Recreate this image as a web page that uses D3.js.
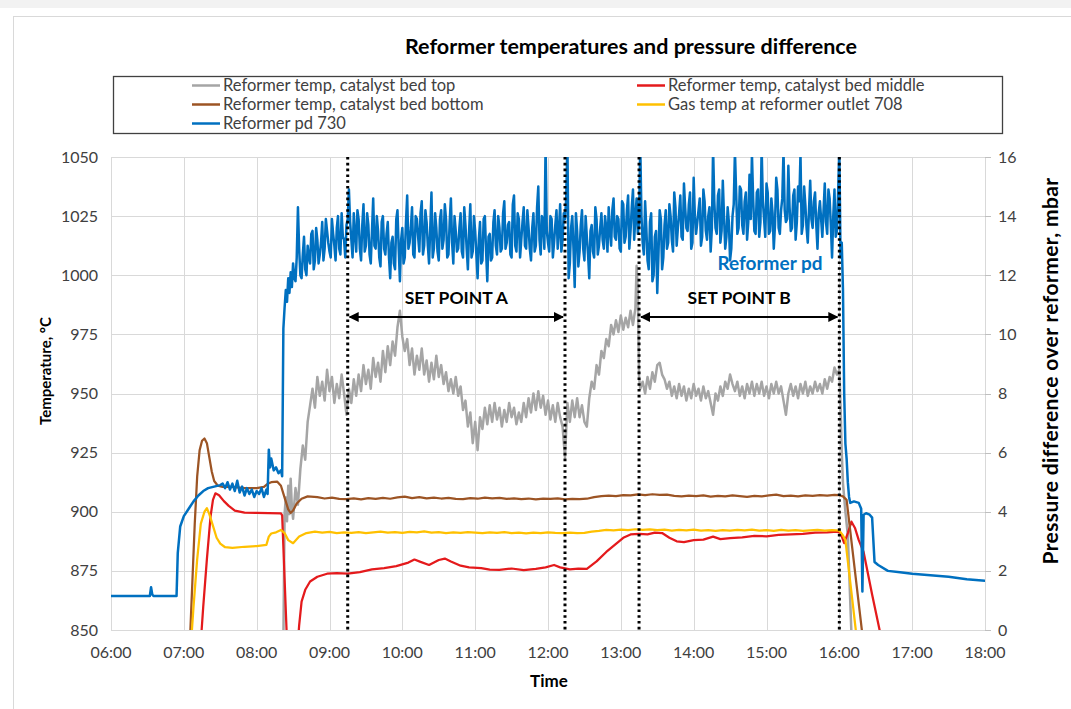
<!DOCTYPE html>
<html lang="en">
<head>
<meta charset="UTF-8">
<title>Reformer temperatures and pressure difference</title>
<script src="https://d3js.org/d3.v7.min.js"></script>
<style>
  html, body { margin: 0; padding: 0; background: #fff; overflow: hidden; }
  svg { display: block; font-family: Lato, "Open Sans", sans-serif; }
  .grid line { stroke: #d9d9d9; stroke-width: 1; }
  .tick-label { font-size: 16px; fill: #404040; }
  .axis-title { font-weight: bold; fill: #000; }
  .series { fill: none; stroke-linejoin: round; stroke-linecap: round; }
</style>
</head>
<body>
<svg width="1071" height="709"></svg>
<script>
const chartTitle = "Reformer temperatures and pressure difference";
const timeTicks = ["06:00","07:00","08:00","09:00","10:00","11:00","12:00","13:00","14:00","15:00","16:00","17:00","18:00"];
const tempTicks = [850, 875, 900, 925, 950, 975, 1000, 1025, 1050];
const pdTicks = [0, 2, 4, 6, 8, 10, 12, 14, 16];

// vertical markers and set point spans
const markerTimes = ["09:15", "12:14", "13:15", "16:00"];
const setPoints = [
  { label: "SET POINT A", from: "09:15", to: "12:14" },
  { label: "SET POINT B", from: "13:15", to: "16:00" }
];

// Reformer temp, catalyst bed top (deg C)
const bedTop = [
  ["08:22",845],["08:23",899],["08:24",906],["08:25",896],["08:26",911],["08:27",899],["08:28",914],["08:29",902],
  ["08:30",897],["08:32",910],["08:34",903],["08:36",918],["08:38",928],["08:40",922],["08:42",938],["08:44",945],
  ["08:46",952],["08:48",944],["08:50",957],["08:52",949],["08:54",955],["08:56",947],["08:58",960],["09:00",951],
  ["09:02",957],["09:04",946],["09:06",954],["09:08",948],["09:10",958],["09:12",950],["09:14",941],
  ["09:16",952],["09:18",946],["09:20",956],["09:22",949],["09:24",958],["09:26",951],["09:28",962],["09:30",954],
  ["09:32",960],["09:34",952],["09:36",965],["09:38",957],["09:40",963],["09:42",955],["09:44",968],["09:46",959],
  ["09:48",970],["09:50",962],["09:52",972],["09:54",966],["09:56",978],["09:58",985],["10:00",974],["10:02",968],
  ["10:04",973],["10:06",962],["10:08",969],["10:10",958],["10:12",966],["10:14",960],["10:16",969],["10:18",958],
  ["10:20",964],["10:22",955],["10:24",963],["10:26",956],["10:28",966],["10:30",957],["10:32",962],["10:34",954],
  ["10:36",959],["10:38",951],["10:40",956],["10:42",950],["10:44",957],["10:46",949],["10:48",953],["10:50",943],
  ["10:52",947],["10:54",936],["10:56",942],["10:58",929],["11:00",938],["11:02",926],["11:04",940],["11:06",935],
  ["11:08",944],["11:10",937],["11:12",945],["11:14",938],["11:16",946],["11:18",939],["11:20",944],["11:22",936],
  ["11:24",943],["11:26",938],["11:28",946],["11:30",940],["11:32",944],["11:34",937],["11:36",942],["11:38",938],
  ["11:40",946],["11:42",940],["11:44",948],["11:46",942],["11:48",950],["11:50",943],["11:52",951],["11:54",944],
  ["11:56",949],["11:58",941],["12:00",947],["12:02",939],["12:04",945],["12:06",938],["12:08",946],["12:10",940],
  ["12:12",936],["12:14",923],["12:16",946],["12:18",938],["12:20",947],["12:22",940],["12:24",948],["12:26",940],
  ["12:28",945],["12:30",938],["12:32",936],["12:34",948],["12:36",955],["12:38",952],["12:40",962],["12:42",958],
  ["12:44",968],["12:46",965],["12:48",973],["12:50",970],["12:52",979],["12:54",975],["12:56",981],["12:58",976],
  ["13:00",983],["13:02",977],["13:04",982],["13:06",978],["13:08",985],["13:10",979],["13:12",986],["13:13",1004],
  ["13:14",992],["13:15",957],["13:16",952],["13:18",955],["13:20",950],["13:22",957],["13:24",952],["13:26",959],
  ["13:28",955],["13:30",962],["13:32",963],["13:34",958],["13:36",956],["13:38",952],["13:40",955],["13:42",949],
  ["13:44",953],["13:46",948],["13:48",954],["13:50",949],["13:52",953],["13:54",947],["13:56",952],["13:58",948],
  ["14:00",954],["14:02",949],["14:04",952],["14:06",947],["14:08",953],["14:10",948],["14:12",951],["14:14",946],
  ["14:16",941],["14:18",950],["14:20",947],["14:22",953],["14:24",949],["14:26",955],["14:28",952],["14:30",958],
  ["14:32",954],["14:34",951],["14:36",955],["14:38",949],["14:40",953],["14:42",948],["14:44",954],["14:46",950],
  ["14:48",955],["14:50",949],["14:52",954],["14:54",950],["14:56",955],["14:58",949],["15:00",953],["15:02",948],
  ["15:04",954],["15:06",950],["15:08",955],["15:10",950],["15:12",953],["15:14",947],["15:16",941],["15:18",950],
  ["15:20",954],["15:22",949],["15:24",953],["15:26",948],["15:28",954],["15:30",950],["15:32",955],["15:34",949],
  ["15:36",953],["15:38",950],["15:40",955],["15:42",951],["15:44",954],["15:46",950],["15:48",956],["15:50",952],
  ["15:52",957],["15:54",955],["15:56",961],["15:58",958],["16:00",960],["16:01",945],["16:02",925],["16:03",912],
  ["16:05",900],["16:07",890],["16:10",848]
];

// Reformer temp, catalyst bed middle (deg C)
const bedMiddle = [
  ["07:14",845],["07:16",860],["07:19",880],["07:22",898],["07:24",905],["07:26",907.8],["07:29",907],["07:33",904.5],
  ["07:37",902.5],["07:42",900.5],["07:50",899.6],["08:00",899.5],["08:10",899.4],["08:20",899.3],["08:21",898.5],
  ["08:25",845],["08:34",845],["08:35",852],["08:37",862],["08:40",867],["08:44",870.5],["08:50",872.5],["08:58",873.8],
  ["09:06",874],["09:15",873.8],["09:25",874.5],["09:35",875.6],["09:45",876.2],["09:55",877],["10:05",878.5],
  ["10:10",879.8],["10:15",878.8],["10:22",877.5],["10:30",879.6],["10:35",880.2],["10:40",879],["10:48",877.2],
  ["10:55",876.5],["11:05",876.2],["11:12",875.5],["11:20",875.4],["11:30",876],["11:40",875.3],["11:50",875.8],
  ["11:58",876.5],["12:05",877.5],["12:10",876.5],["12:18",875.6],["12:25",876],["12:32",875.8],["12:40",879],
  ["12:48",883],["12:55",886],["13:02",889],["13:08",890.4],["13:15",890.6],["13:22",890.4],["13:28",891.2],
  ["13:34",891],["13:40",889],["13:46",887.5],["13:52",887.2],["14:00",888],["14:08",888.2],["14:16",889.5],
  ["14:22",888.4],["14:30",888.8],["14:40",889.2],["14:50",889.8],["15:00",889.6],["15:10",890.2],["15:20",890.4],
  ["15:30",890.6],["15:40",891.2],["15:50",891.3],["15:58",891.6],["16:01",891],["16:04",886.7],["16:07",891],
  ["16:10",895.8],["16:13",893],["16:16",888],["16:20",883],["16:27",865],["16:34",848]
];

// Reformer temp, catalyst bed bottom (deg C)
const bedBottom = [
  ["07:05",845],["07:07",870],["07:09",895],["07:11",915],["07:13",926],["07:15",930],["07:17",931],["07:19",929],
  ["07:21",923],["07:23",917],["07:25",913],["07:28",911],["07:32",910.5],["07:40",910.5],["07:50",910],["08:00",910],
  ["08:06",910.5],["08:09",911.8],["08:12",912.5],["08:17",912.7],["08:20",911],["08:23",906],["08:26",901],
  ["08:28",899.5],["08:30",900.5],["08:33",903.5],["08:37",905.5],["08:42",906.5],
  ["08:50",906.2],["08:56",905.6],["09:02",906.0],["09:08",905.4],["09:14",905.3],["09:20",905.7],["09:26",905.2],
  ["09:32",905.8],["09:38",905.4],["09:44",905.9],["09:50",905.5],["09:56",906.1],["10:02",906.4],["10:08",905.8],
  ["10:14",906.2],["10:20",905.7],["10:26",906.0],["10:32",905.6],["10:38",905.9],["10:44",905.4],["10:50",905.3],
  ["10:56",905.8],["11:02",905.5],["11:08",906.0],["11:14",905.7],["11:20",905.9],["11:26",905.4],["11:32",905.7],
  ["11:38",905.3],["11:44",905.6],["11:50",905.2],["11:56",905.5],["12:02",905.4],["12:08",905.7],["12:14",905.2],
  ["12:20",905.4],["12:26",905.3],["12:32",905.5],["12:38",906.2],["12:44",906.6],["12:50",906.8],["12:56",906.6],
  ["13:02",907.0],["13:08",906.9],["13:14",907.3],["13:20",907.0],["13:26",907.4],["13:32",907.1],["13:38",907.2],
  ["13:44",906.7],["13:50",906.5],["13:56",906.8],["14:02",906.6],["14:08",906.9],["14:14",906.4],["14:20",906.7],
  ["14:26",906.5],["14:32",906.9],["14:38",906.6],["14:44",906.3],["14:50",906.7],["14:56",906.5],["15:02",906.9],
  ["15:08",907.2],["15:14",906.6],["15:20",906.8],["15:26",906.5],["15:32",906.9],["15:38",906.7],["15:44",907.0],
  ["15:50",906.8],["15:56",907.1],["16:00",907.0],["16:03",906.5],["16:06",905],["16:19",848]
];

// Gas temp at reformer outlet 708 (deg C)
const gasOutlet = [
  ["07:06",845],["07:08",860],["07:11",880],["07:14",895],["07:17",900],["07:19",901.5],["07:21",899],["07:24",894],
  ["07:27",889],["07:30",886.5],["07:34",885],["07:40",884.7],["07:50",885.2],["08:00",885.5],["08:08",886],
  ["08:10",889.5],["08:12",890.8],["08:16",891.3],["08:20",892.3],["08:23",891],["08:26",888],["08:30",886.7],
  ["08:35",889.5],["08:41",891],
  ["08:48",891.6],["08:54",891.2],["09:00",891.5],["09:06",891.0],["09:12",891.3],["09:18",891.1],["09:24",891.4],
  ["09:30",891.0],["09:36",891.3],["09:42",891.6],["09:48",891.2],["09:54",891.4],["10:00",891.1],["10:06",891.5],
  ["10:12",891.3],["10:18",891.7],["10:24",891.2],["10:30",891.4],["10:36",891.0],["10:42",891.3],["10:48",891.1],
  ["10:54",891.4],["11:00",891.2],["11:06",891.0],["11:12",891.3],["11:18",891.1],["11:24",891.4],["11:30",891.0],
  ["11:36",891.2],["11:42",890.9],["11:48",891.2],["11:54",891.0],["12:00",891.3],["12:06",891.1],["12:12",891.0],
  ["12:18",891.2],["12:24",891.0],["12:30",891.1],["12:36",891.6],["12:42",891.9],["12:48",892.3],["12:54",892.1],
  ["13:00",892.4],["13:06",892.2],["13:12",892.6],["13:18",892.3],["13:24",892.5],["13:30",892.2],["13:36",892.4],
  ["13:42",892.0],["13:48",892.3],["13:54",892.1],["14:00",892.4],["14:06",892.0],["14:12",892.2],["14:18",891.9],
  ["14:24",892.2],["14:30",892.0],["14:36",892.3],["14:42",892.1],["14:48",892.4],["14:54",892.0],["15:00",892.2],
  ["15:06",891.9],["15:12",892.3],["15:18",892.0],["15:24",892.2],["15:30",891.9],["15:36",892.1],["15:42",892.3],
  ["15:48",892.0],["15:54",892.2],["16:00",892.0],["16:03",890],["16:05",888],["16:14",848]
];

// Reformer pd 730 (mbar, right axis), one-minute log while the reformer is running
const pd730 = [
  ["06:00",1.15],["06:32",1.15],["06:33",1.45],["06:34",1.2],["06:35",1.15],["06:54",1.15],["06:55",2.6],["06:57",3.5],
  ["07:00",3.85],["07:04",4.1],["07:08",4.35],["07:12",4.55],["07:16",4.7],["07:20",4.8],["07:25",4.85],["07:30",4.9],
  ["07:32",4.95],["07:34",4.8],["07:36",5.0],["07:38",4.75],["07:40",4.95],["07:42",4.7],["07:44",5.05],["07:46",4.65],
  ["07:48",4.85],["07:50",4.55],["07:52",4.8],["07:54",4.6],["07:56",4.75],["07:58",4.5],["08:00",4.7],["08:02",4.6],
  ["08:04",4.8],["08:06",4.5],["08:08",4.75],["08:09",4.6],["08:10",6.1],["08:11",5.5],["08:12",5.8],["08:14",5.4],
  ["08:16",5.5],["08:18",5.3],["08:20",5.4],["08:21",5.2],["08:22",10.2],["08:23",10.9],["08:24",11.5],["08:25",11.1],
  ["08:26",11.9],["08:27",11.4],["08:28",12.1],["08:29",11.6],
  ["08:30",12.4],["08:31",11.9],["08:32",11.8],["08:33",12.6],["08:34",14.3],["08:35",12.9],["08:36",12.0],["08:37",11.9],
  ["08:38",12.7],["08:39",13.3],["08:40",12.2],["08:41",12.0],["08:42",13.0],["08:43",12.6],["08:44",12.4],["08:45",13.4],
  ["08:46",13.5],["08:47",12.2],["08:48",12.5],["08:49",13.6],["08:50",13.2],["08:51",12.4],["08:52",12.7],["08:53",13.1],
  ["08:54",13.8],["08:55",12.5],["08:56",12.9],["08:57",13.9],["08:58",13.5],["08:59",13.1],["09:00",12.8],["09:01",12.6],
  ["09:02",13.9],["09:03",13.4],["09:04",13.0],["09:05",12.5],["09:06",13.6],["09:07",14.0],["09:08",12.9],["09:09",12.7],
  ["09:10",14.1],["09:11",13.3],["09:12",13.2],["09:13",12.6],["09:14",13.7],["09:15",13.9],
  ["09:16",14.9],["09:17",13.8],["09:18",13.2],["09:19",12.6],["09:20",14.1],["09:21",13.4],["09:22",12.8],["09:23",14.2],
  ["09:24",13.9],["09:25",12.9],["09:26",12.5],["09:27",13.7],["09:28",14.4],["09:29",12.8],["09:30",13.0],["09:31",14.1],
  ["09:32",13.7],["09:33",12.7],["09:34",12.4],["09:35",13.5],["09:36",14.6],["09:37",13.0],["09:38",12.9],["09:39",14.0],
  ["09:40",13.5],["09:41",12.6],["09:42",12.3],["09:43",13.8],["09:44",14.0],["09:45",12.9],
  ["09:46",12.7],["09:47",13.4],["09:48",13.8],["09:49",12.6],["09:50",11.9],["09:51",13.1],["09:52",13.3],["09:53",12.4],
  ["09:54",12.2],["09:55",13.9],["09:56",14.2],["09:57",12.9],["09:58",11.8],["09:59",13.2],["10:00",13.6],["10:01",12.4],
  ["10:02",12.6],["10:03",13.8],["10:04",14.7],["10:05",12.9],["10:06",13.1],["10:07",13.6],["10:08",14.3],["10:09",12.7],
  ["10:10",12.6],["10:11",14.0],["10:12",13.9],["10:13",13.3],["10:14",12.8],["10:15",14.1],
  ["10:16",14.5],["10:17",12.7],["10:18",13.0],["10:19",14.2],["10:20",13.8],["10:21",13.0],["10:22",12.4],["10:23",13.6],
  ["10:24",14.8],["10:25",12.6],["10:26",12.9],["10:27",14.1],["10:28",13.6],["10:29",12.8],["10:30",12.5],["10:31",13.9],
  ["10:32",14.2],["10:33",12.9],["10:34",13.2],["10:35",14.4],["10:36",13.9],["10:37",12.6],["10:38",12.7],["10:39",13.8],
  ["10:40",14.6],["10:41",13.1],["10:42",12.4],["10:43",14.0],["10:44",13.5],["10:45",12.8],
  ["10:46",12.9],["10:47",13.6],["10:48",14.1],["10:49",12.8],["10:50",12.6],["10:51",14.3],["10:52",13.7],["10:53",12.9],
  ["10:54",12.2],["10:55",13.5],["10:56",14.4],["10:57",12.6],["10:58",12.8],["10:59",14.0],["11:00",13.5],["11:01",12.7],
  ["11:02",11.9],["11:03",13.2],["11:04",13.8],["11:05",12.4],["11:06",12.5],["11:07",13.9],["11:08",14.0],["11:09",12.8],
  ["11:10",11.8],["11:11",13.3],["11:12",13.4],["11:13",12.5],["11:14",12.6],["11:15",13.8],
  ["11:16",14.2],["11:17",13.0],["11:18",12.7],["11:19",14.0],["11:20",13.6],["11:21",12.8],["11:22",12.9],["11:23",14.1],
  ["11:24",14.5],["11:25",12.9],["11:26",13.1],["11:27",13.7],["11:28",13.8],["11:29",12.7],["11:30",12.6],["11:31",14.4],
  ["11:32",14.7],["11:33",13.0],["11:34",12.8],["11:35",14.1],["11:36",13.9],["11:37",12.6],["11:38",13.2],["11:39",13.8],
  ["11:40",14.3],["11:41",13.0],["11:42",12.9],["11:43",14.2],["11:44",13.6],["11:45",12.9],
  ["11:46",12.5],["11:47",13.6],["11:48",14.1],["11:49",12.8],["11:50",13.0],["11:51",14.3],["11:52",15.0],["11:53",13.2],
  ["11:54",12.7],["11:55",14.0],["11:56",13.8],["11:57",12.9],["11:58",16.4],["11:59",13.5],["12:00",13.1],["12:01",12.8],
  ["12:02",14.0],["12:03",13.9],["12:04",12.6],["12:05",13.1],["12:06",13.7],["12:07",14.2],["12:08",12.9],["12:09",13.5],
  ["12:10",14.4],["12:11",12.8],["12:12",13.2],["12:13",14.1],["12:14",13.9],["12:15",14.6],
  ["12:16",16.5],["12:17",11.9],["12:18",12.4],["12:19",13.6],["12:20",14.0],["12:21",12.9],["12:22",11.6],["12:23",14.1],
  ["12:24",13.5],["12:25",12.3],["12:26",12.8],["12:27",13.7],["12:28",14.2],["12:29",12.9],["12:30",12.5],["12:31",14.0],
  ["12:32",13.3],["12:33",12.7],["12:34",11.9],["12:35",13.5],["12:36",13.7],["12:37",12.8],["12:38",12.6],["12:39",14.3],
  ["12:40",13.9],["12:41",12.7],["12:42",13.0],["12:43",13.6],["12:44",14.1],["12:45",13.2],
  ["12:46",12.9],["12:47",14.0],["12:48",13.6],["12:49",12.8],["12:50",14.3],["12:51",13.5],["12:52",13.0],["12:53",14.2],
  ["12:54",14.6],["12:55",13.3],["12:56",13.2],["12:57",14.0],["12:58",13.9],["12:59",12.9],["13:00",12.8],["13:01",14.5],
  ["13:02",14.4],["13:03",13.1],["13:04",13.3],["13:05",14.2],["13:06",14.7],["13:07",12.9],["13:08",13.5],["13:09",14.3],
  ["13:10",14.9],["13:11",13.2],["13:12",14.0],["13:13",14.6],["13:14",13.4],["13:15",13.8],["13:16",16.4],
  ["13:17",14.0],["13:18",13.1],["13:19",12.7],["13:20",14.5],["13:21",13.6],["13:22",12.5],["13:23",12.2],["13:24",13.8],
  ["13:25",14.1],["13:26",11.8],["13:27",12.0],["13:28",13.3],["13:29",13.5],["13:30",11.4],["13:31",12.7],["13:32",14.2],
  ["13:33",13.9],["13:34",12.2],["13:35",12.6],["13:36",13.7],["13:37",14.2],["13:38",12.9],["13:39",13.1],["13:40",14.4],
  ["13:41",14.0],["13:42",13.2],["13:43",12.8],["13:44",14.8],["13:45",14.3],["13:46",13.0],
  ["13:47",13.6],["13:48",14.1],["13:49",14.7],["13:50",13.3],["13:51",13.2],["13:52",15.1],["13:53",14.3],["13:54",13.6],
  ["13:55",13.5],["13:56",14.4],["13:57",14.8],["13:58",12.9],["13:59",13.1],["14:00",15.3],["14:01",14.0],["14:02",13.4],
  ["14:03",13.8],["14:04",14.2],["14:05",14.6],["14:06",13.0],["14:07",13.3],["14:08",14.9],["14:09",14.5],["14:10",13.5],
  ["14:11",13.2],["14:12",14.0],["14:13",14.3],["14:14",12.8],["14:15",13.6],["14:16",16.3],
  ["14:17",14.5],["14:18",13.6],["14:19",13.4],["14:20",14.7],["14:21",14.9],["14:22",13.1],["14:23",13.5],["14:24",15.2],
  ["14:25",14.0],["14:26",12.9],["14:27",13.3],["14:28",14.3],["14:29",13.8],["14:30",12.5],["14:31",12.9],["14:32",14.0],
  ["14:33",14.4],["14:34",16.2],["14:35",14.8],["14:36",13.4],["14:37",13.6],["14:38",15.0],["14:39",14.9],["14:40",13.7],
  ["14:41",13.4],["14:42",14.5],["14:43",14.8],["14:44",13.2],["14:45",13.8],["14:46",15.4],
  ["14:47",13.9],["14:48",16.1],["14:49",14.6],["14:50",13.5],["14:51",13.4],["14:52",14.8],["14:53",14.9],["14:54",13.3],
  ["14:55",13.8],["14:56",16.3],["14:57",14.5],["14:58",13.9],["14:59",13.3],["15:00",15.1],["15:01",14.8],["15:02",13.4],
  ["15:03",13.5],["15:04",14.6],["15:05",14.1],["15:06",12.9],["15:07",13.7],["15:08",15.3],["15:09",14.9],["15:10",13.6],
  ["15:11",13.4],["15:12",14.2],["15:13",14.6],["15:14",16.2],["15:15",14.2],["15:16",13.8],
  ["15:17",13.9],["15:18",15.7],["15:19",14.3],["15:20",13.5],["15:21",13.6],["15:22",14.7],["15:23",14.9],["15:24",13.2],
  ["15:25",13.8],["15:26",15.0],["15:27",14.5],["15:28",16.1],["15:29",13.4],["15:30",13.7],["15:31",15.0],["15:32",14.4],
  ["15:33",13.6],["15:34",13.1],["15:35",14.2],["15:36",15.2],["15:37",13.9],["15:38",13.6],["15:39",14.5],["15:40",14.8],
  ["15:41",13.7],["15:42",12.9],["15:43",14.1],["15:44",14.5],["15:45",13.9],["15:46",13.3],
  ["15:47",14.2],["15:48",15.1],["15:49",13.8],["15:50",13.4],["15:51",14.9],["15:52",14.6],["15:53",13.7],["15:54",12.6],
  ["15:55",14.0],["15:56",14.9],["15:57",13.3],["15:58",13.5],["15:59",14.8],["16:00",16.3],
  ["16:01",12.6],["16:02",13.1],["16:03",11.5],["16:04",8.0],["16:05",6.3],["16:06",5.8],["16:07",5.0],["16:08",4.5],
  ["16:09",4.3],["16:12",4.35],["16:16",4.3],["16:18",4.1],["16:19",1.3],["16:20",3.9],["16:22",3.95],["16:25",3.9],
  ["16:27",3.8],["16:29",2.3],["16:32",2.2],["16:40",2.0],["16:50",1.95],["17:00",1.9],["17:15",1.85],["17:30",1.8],
  ["17:45",1.72],["18:00",1.67]
];

const series = [
  { name: "Reformer temp, catalyst bed top", data: bedTop, color: "#a5a5a5", axis: "left", width: 2.5 },
  { name: "Reformer temp, catalyst bed middle", data: bedMiddle, color: "#e41a1c", axis: "left", width: 2.25 },
  { name: "Reformer temp, catalyst bed bottom", data: bedBottom, color: "#9c5424", axis: "left", width: 2.25 },
  { name: "Gas temp at reformer outlet 708", data: gasOutlet, color: "#ffc000", axis: "left", width: 2.25 },
  { name: "Reformer pd 730", data: pd730, color: "#0070c0", axis: "right", width: 2.5 }
];

const svg = d3.select("svg");
const parseTime = d3.timeParse("%H:%M");
const plot = { left: 111, right: 985, top: 157, bottom: 630 };

const x = d3.scaleTime()
  .domain([parseTime(timeTicks[0]), parseTime(timeTicks[timeTicks.length - 1])])
  .range([plot.left, plot.right]);
const yTemp = d3.scaleLinear().domain([tempTicks[0], tempTicks[tempTicks.length - 1]]).range([plot.bottom, plot.top]);
const yPd = d3.scaleLinear().domain([pdTicks[0], pdTicks[pdTicks.length - 1]]).range([plot.bottom, plot.top]);

// page / chart frame
svg.append("rect").attr("x", 0).attr("y", 0).attr("width", 1071).attr("height", 8).attr("fill", "#f2f2f2");
svg.append("rect").attr("x", 13.5).attr("y", 16.5).attr("width", 1070).attr("height", 720)
  .attr("fill", "none").attr("stroke", "#d9d9d9");

svg.append("text")
  .attr("x", 631).attr("y", 54)
  .attr("text-anchor", "middle")
  .attr("font-size", 21.5).attr("font-weight", "bold")
  .text(chartTitle);

// gridlines
const grid = svg.append("g").attr("class", "grid");
grid.selectAll("line.h").data(tempTicks).join("line")
  .attr("class", "h")
  .attr("x1", plot.left).attr("x2", plot.right)
  .attr("y1", d => Math.round(yTemp(d)) + 0.5).attr("y2", d => Math.round(yTemp(d)) + 0.5);
grid.selectAll("line.v").data(timeTicks).join("line")
  .attr("class", "v")
  .attr("x1", d => Math.round(x(parseTime(d))) + 0.5).attr("x2", d => Math.round(x(parseTime(d))) + 0.5)
  .attr("y1", plot.top).attr("y2", plot.bottom);

// right axis tick marks
svg.append("g").selectAll("line").data(pdTicks).join("line")
  .attr("x1", plot.right).attr("x2", plot.right + 6)
  .attr("y1", d => Math.round(yPd(d)) + 0.5).attr("y2", d => Math.round(yPd(d)) + 0.5)
  .attr("stroke", "#bfbfbf");

// tick labels
svg.append("g").selectAll("text").data(tempTicks).join("text")
  .attr("class", "tick-label")
  .attr("x", 98).attr("y", d => yTemp(d))
  .attr("dy", "0.35em").attr("text-anchor", "end")
  .text(d => d);
svg.append("g").selectAll("text").data(pdTicks).join("text")
  .attr("class", "tick-label")
  .attr("x", 998).attr("y", d => yPd(d))
  .attr("dy", "0.35em").attr("text-anchor", "start")
  .text(d => d);
svg.append("g").selectAll("text").data(timeTicks).join("text")
  .attr("class", "tick-label")
  .attr("x", d => x(parseTime(d))).attr("y", 652)
  .attr("dy", "0.35em").attr("text-anchor", "middle")
  .text(d => d);

// axis titles
svg.append("text").attr("class", "axis-title")
  .attr("x", 549).attr("y", 681).attr("dy", "0.35em").attr("text-anchor", "middle")
  .attr("font-size", 17)
  .text("Time");
svg.append("text").attr("class", "axis-title")
  .attr("transform", "translate(46,371) rotate(-90)")
  .attr("dy", "0.35em").attr("text-anchor", "middle")
  .attr("font-size", 15)
  .text("Temperature, °C");
svg.append("text").attr("class", "axis-title")
  .attr("transform", "translate(1051,371) rotate(-90)")
  .attr("dy", "0.35em").attr("text-anchor", "middle")
  .attr("font-size", 21).attr("letter-spacing", 0.4)
  .text("Pressure difference over reformer, mbar");

// series lines, clipped to the plot area
svg.append("clipPath").attr("id", "plot-clip")
  .append("rect")
  .attr("x", plot.left).attr("y", plot.top)
  .attr("width", plot.right - plot.left).attr("height", plot.bottom - plot.top);

const lines = svg.append("g").attr("clip-path", "url(#plot-clip)");
series.forEach(s => {
  const y = s.axis === "left" ? yTemp : yPd;
  const line = d3.line()
    .x(d => x(parseTime(d[0])))
    .y(d => y(d[1]));
  lines.append("path")
    .datum(s.data)
    .attr("class", "series")
    .attr("stroke", s.color)
    .attr("stroke-width", s.width)
    .attr("d", line);
});

// dotted markers
svg.append("g").selectAll("line").data(markerTimes).join("line")
  .attr("x1", d => x(parseTime(d))).attr("x2", d => x(parseTime(d)))
  .attr("y1", plot.top).attr("y2", plot.bottom)
  .attr("stroke", "#000").attr("stroke-width", 3)
  .attr("stroke-dasharray", "2.6,3.2");

// set point arrows
svg.append("defs").append("marker")
  .attr("id", "arrow").attr("viewBox", "0 0 10 10")
  .attr("refX", 9).attr("refY", 5)
  .attr("markerWidth", 5).attr("markerHeight", 5)
  .attr("orient", "auto-start-reverse")
  .append("path").attr("d", "M0,0 L10,5 L0,10 z").attr("fill", "#000");

const sp = svg.append("g").selectAll("g").data(setPoints).join("g");
sp.append("line")
  .attr("x1", d => x(parseTime(d.from)) + 2).attr("x2", d => x(parseTime(d.to)) - 2)
  .attr("y1", 317).attr("y2", 317)
  .attr("stroke", "#000").attr("stroke-width", 2)
  .attr("marker-start", "url(#arrow)").attr("marker-end", "url(#arrow)");
sp.append("text")
  .attr("x", d => (x(parseTime(d.from)) + x(parseTime(d.to))) / 2)
  .attr("y", 298).attr("dy", "0.35em").attr("text-anchor", "middle")
  .attr("font-size", 17.5).attr("font-weight", "bold")
  .text(d => d.label);

svg.append("text")
  .attr("x", 770).attr("y", 263).attr("dy", "0.35em").attr("text-anchor", "middle")
  .attr("font-size", 19).attr("font-weight", "bold").attr("fill", "#0070c0")
  .text("Reformer pd");

// legend
const legend = svg.append("g");
legend.append("rect")
  .attr("x", 113.5).attr("y", 76.5).attr("width", 889).attr("height", 57)
  .attr("fill", "#fff").attr("stroke", "#404040").attr("stroke-width", 1.3);
const legendPos = [[192, 85.5], [637, 85.5], [192, 104.5], [637, 104.5], [192, 123.5]];
const items = legend.selectAll("g").data(series).join("g")
  .attr("transform", (d, i) => `translate(${legendPos[i][0]},${legendPos[i][1]})`);
items.append("line").attr("x1", 0).attr("x2", 28).attr("y1", 0).attr("y2", 0)
  .attr("stroke", d => d.color).attr("stroke-width", 2.5);
items.append("text").attr("x", 31).attr("dy", "0.35em")
  .attr("font-size", 16.5).attr("fill", "#404040")
  .text(d => d.name);
</script>
</body>
</html>
